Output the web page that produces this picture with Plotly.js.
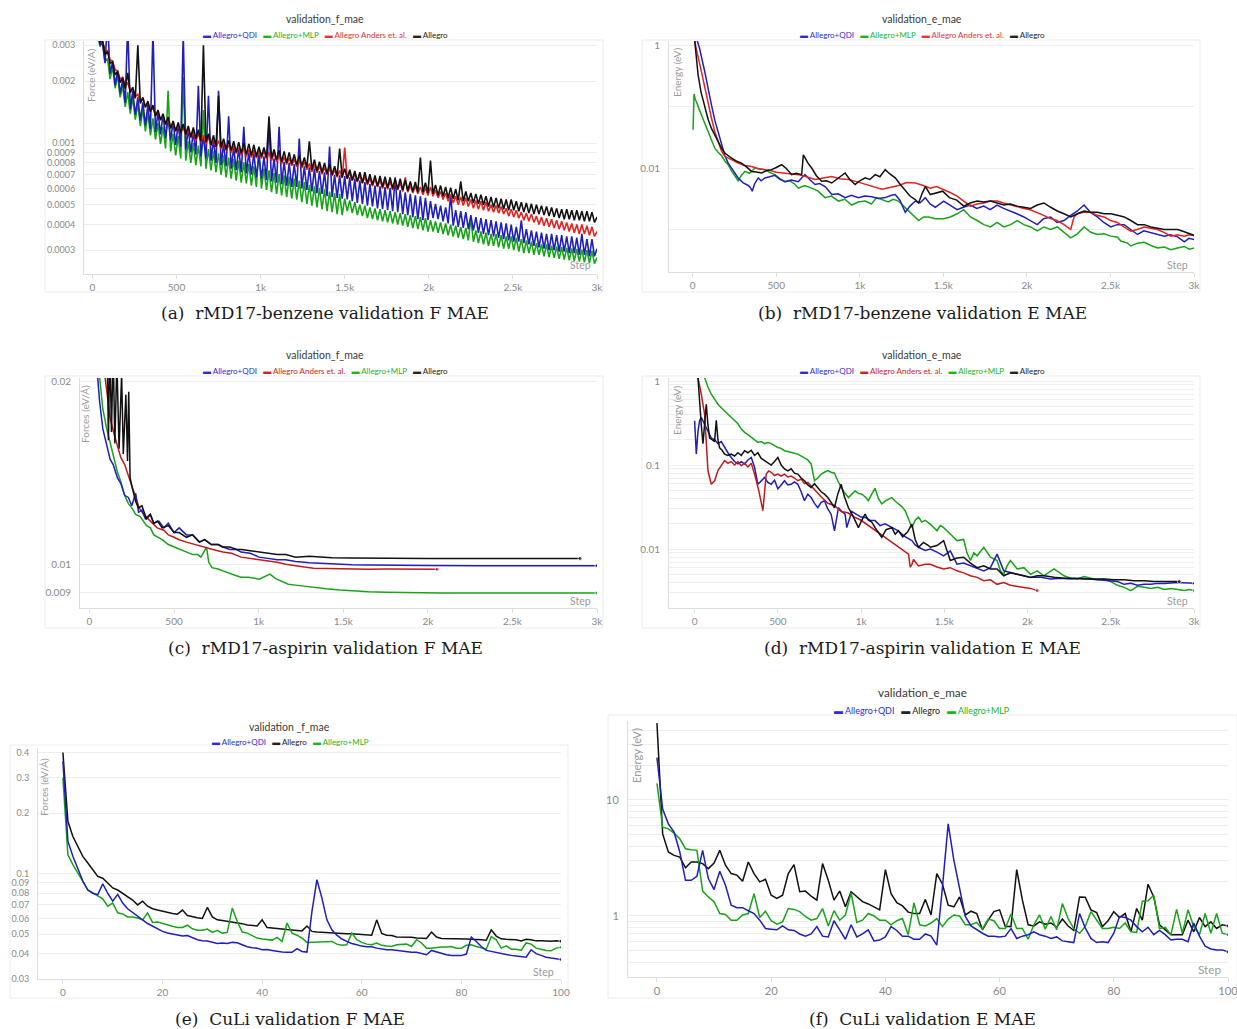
<!DOCTYPE html>
<html><head><meta charset="utf-8">
<script src="https://cdn.plot.ly/plotly-3.0.1.min.js"></script>
<style>html,body{margin:0;padding:0;background:#fff}#chart{width:1237px;height:1029px}</style>
</head><body><div id="chart"></div>
<script>
// ---------------- DATA ----------------
const seriesNames = {qdi:'Allegro+QDI', mlp:'Allegro+MLP', anders:'Allegro Anders et. al.', allegro:'Allegro'};
const stepTickVals = [0,500,1000,1500,2000,2500,3000];
const stepTickText = ['0','500','1k','1.5k','2k','2.5k','3k'];
const epochTickVals = [0,20,40,60,80,100];
const epochTickText = ['0','20','40','60','80','100'];

// (a) rMD17-benzene force MAE, read every 15 steps (upper / lower edge of the noisy band)
const stepsA = [0,15,30,45,60,75,90,105,120,135,150,165,180,195,210,225,240,255,270,285,300,315,330,345,360,375,390,405,420,435,450,465,480,495,510,525,540,555,570,585,600,615,630,645,660,675,690,705,720,735,750,765,780,795,810,825,840,855,870,885,900,915,930,945,960,975,990,1005,1020,1035,1050,1065,1080,1095,1110,1125,1140,1155,1170,1185,1200,1215,1230,1245,1260,1275,1290,1305,1320,1335,1350,1365,1380,1395,1410,1425,1440,1455,1470,1485,1500,1515,1530,1545,1560,1575,1590,1605,1620,1635,1650,1665,1680,1695,1710,1725,1740,1755,1770,1785,1800,1815,1830,1845,1860,1875,1890,1905,1920,1935,1950,1965,1980,1995,2010,2025,2040,2055,2070,2085,2100,2115,2130,2145,2160,2175,2190,2205,2220,2235,2250,2265,2280,2295,2310,2325,2340,2355,2370,2385,2400,2415,2430,2445,2460,2475,2490,2505,2520,2535,2550,2565,2580,2595,2610,2625,2640,2655,2670,2685,2700,2715,2730,2745,2760,2775,2790,2805,2820,2835,2850,2865,2880,2895,2910,2925,2940,2955,2970,2985,3000];
const fA_allegro = [
 45e-4,40e-4, 36e-4,31e-4, 31.8e-4,27e-4, 28e-4,24.5e-4, 24.9e-4,21.5e-4,
 22.3e-4,19.7e-4, 20.8e-4,18.4e-4, 22e-4,17.6e-4, 18.7e-4,16.5e-4, 30e-4,15.6e-4,
 16.7e-4,14.9e-4, 16.0e-4,14.2e-4, 15.3e-4,13.5e-4, 14.5e-4,12.9e-4, 13.9e-4,12.3e-4,
 13.4e-4,11.8e-4, 12.8e-4,11.4e-4, 12.6e-4,11.2e-4, 12.4e-4,11.0e-4, 12.1e-4,10.7e-4,
 11.9e-4,10.5e-4, 11.6e-4,10.2e-4, 30e-4,10.1e-4, 11.1e-4,9.8e-4, 10.9e-4,9.6e-4,
 17e-4,9.5e-4, 10.5e-4,9.3e-4, 10.3e-4,9.2e-4, 10.2e-4,9.0e-4, 10.1e-4,8.9e-4,
 10.0e-4,8.8e-4, 9.9e-4,8.7e-4, 9.8e-4,8.6e-4, 9.6e-4,8.6e-4, 9.5e-4,8.5e-4,
 13.5e-4,8.4e-4, 9.3e-4,8.3e-4, 9.2e-4,8.1e-4, 9.1e-4,8.0e-4, 9.0e-4,7.9e-4,
 8.8e-4,7.8e-4, 8.7e-4,7.7e-4, 8.5e-4,7.6e-4, 10.2e-4,7.4e-4, 8.3e-4,7.3e-4,
 8.1e-4,7.2e-4, 8.0e-4,7.1e-4, 7.9e-4,7.0e-4, 7.7e-4,6.9e-4, 9.4e-4,6.8e-4,
 7.5e-4,6.7e-4, 7.4e-4,6.6e-4, 7.3e-4,6.5e-4, 7.2e-4,6.4e-4, 7.2e-4,6.35e-4,
 7.05e-4,6.25e-4, 6.95e-4,6.15e-4, 6.9e-4,6.1e-4, 6.85e-4,6.05e-4, 6.8e-4,6.0e-4,
 6.7e-4,5.95e-4, 6.7e-4,5.9e-4, 6.6e-4,5.85e-4, 6.5e-4,5.8e-4, 6.45e-4,5.75e-4,
 8.5e-4,5.75e-4, 6.4e-4,5.7e-4, 8.2e-4,5.65e-4, 6.25e-4,5.55e-4, 6.2e-4,5.5e-4,
 6.1e-4,5.4e-4, 6.05e-4,5.35e-4, 5.95e-4,5.25e-4, 6.5e-4,5.2e-4, 5.8e-4,5.2e-4,
 5.7e-4,5.1e-4, 5.65e-4,5.05e-4, 5.6e-4,5.0e-4, 5.5e-4,4.9e-4, 5.45e-4,4.85e-4,
 5.4e-4,4.8e-4, 5.35e-4,4.75e-4, 5.3e-4,4.7e-4, 5.3e-4,4.7e-4, 5.2e-4,4.65e-4,
 5.15e-4,4.6e-4, 5.1e-4,4.55e-4, 5.05e-4,4.5e-4, 5.0e-4,4.5e-4, 4.95e-4,4.45e-4,
 4.9e-4,4.4e-4, 4.85e-4,4.35e-4, 4.8e-4,4.3e-4, 4.75e-4,4.25e-4, 4.75e-4,4.25e-4,
 4.7e-4,4.2e-4, 4.7e-4,4.2e-4, 4.65e-4,4.15e-4, 4.65e-4,4.15e-4, 4.6e-4,4.1e-4,
 4.35e-4];
const fA_anders = [
 45e-4,40e-4, 36.5e-4,32e-4, 31.3e-4,28.5e-4, 28.2e-4,25.5e-4, 25.1e-4,22.8e-4,
 22.5e-4,20.5e-4, 20.9e-4,19.1e-4, 19.6e-4,18.0e-4, 18.4e-4,16.8e-4, 17.3e-4,15.9e-4,
 16.5e-4,15.1e-4, 15.7e-4,14.3e-4, 14.9e-4,13.7e-4, 14.2e-4,13.0e-4, 13.6e-4,12.4e-4,
 13.0e-4,11.8e-4, 12.5e-4,11.5e-4, 12.2e-4,11.2e-4, 11.9e-4,10.9e-4, 11.6e-4,10.6e-4,
 11.3e-4,10.3e-4, 11.1e-4,10.1e-4, 10.9e-4,9.9e-4, 10.7e-4,9.7e-4, 10.45e-4,9.55e-4,
 10.25e-4,9.35e-4, 10.0e-4,9.2e-4, 9.8e-4,9.0e-4, 9.7e-4,8.9e-4, 9.5e-4,8.7e-4,
 9.4e-4,8.6e-4, 9.3e-4,8.5e-4, 9.25e-4,8.45e-4, 9.2e-4,8.4e-4, 9.15e-4,8.35e-4,
 9.0e-4,8.2e-4, 8.9e-4,8.1e-4, 8.7e-4,7.9e-4, 8.55e-4,7.85e-4, 8.45e-4,7.75e-4,
 8.35e-4,7.65e-4, 8.25e-4,7.55e-4, 8.1e-4,7.4e-4, 7.95e-4,7.25e-4, 7.85e-4,7.15e-4,
 7.75e-4,7.05e-4, 7.6e-4,7.0e-4, 7.5e-4,6.9e-4, 7.4e-4,6.8e-4, 7.35e-4,6.75e-4,
 9.5e-4,6.7e-4, 7.15e-4,6.55e-4, 7.05e-4,6.45e-4, 6.95e-4,6.35e-4, 6.85e-4,6.25e-4,
 6.75e-4,6.15e-4, 6.7e-4,6.1e-4, 6.6e-4,6.0e-4, 6.55e-4,5.95e-4, 6.5e-4,5.9e-4,
 6.5e-4,5.9e-4, 6.4e-4,5.8e-4, 6.8e-4,5.75e-4, 6.2e-4,5.7e-4, 6.15e-4,5.65e-4,
 6.1e-4,5.6e-4, 6.05e-4,5.55e-4, 6.1e-4,5.5e-4, 5.9e-4,5.4e-4, 5.8e-4,5.3e-4,
 5.7e-4,5.2e-4, 5.6e-4,5.1e-4, 5.5e-4,5.0e-4, 5.45e-4,4.95e-4, 5.4e-4,4.9e-4,
 5.3e-4,4.8e-4, 5.25e-4,4.75e-4, 5.2e-4,4.7e-4, 5.15e-4,4.65e-4, 5.0e-4,4.6e-4,
 4.95e-4,4.55e-4, 4.9e-4,4.5e-4, 4.8e-4,4.4e-4, 4.75e-4,4.35e-4, 4.7e-4,4.3e-4,
 4.6e-4,4.2e-4, 4.55e-4,4.15e-4, 4.5e-4,4.1e-4, 4.4e-4,4.0e-4, 4.35e-4,3.95e-4,
 4.3e-4,3.9e-4, 4.25e-4,3.85e-4, 4.2e-4,3.8e-4, 4.15e-4,3.75e-4, 4.1e-4,3.7e-4,
 4.05e-4,3.65e-4, 4.0e-4,3.6e-4, 4.0e-4,3.6e-4, 3.95e-4,3.55e-4, 3.9e-4,3.5e-4,
 3.7e-4];
const fA_qdi = [
 45e-4,40e-4, 36e-4,30e-4, 31e-4,24.5e-4, 40e-4,21.8e-4, 24.8e-4,19.1e-4,
 22.6e-4,17.4e-4, 20.3e-4,15.7e-4, 38e-4,14.6e-4, 17.9e-4,13.7e-4, 16.7e-4,12.9e-4,
 15.8e-4,12.2e-4, 15.3e-4,11.7e-4, 35e-4,11.3e-4, 14.2e-4,11.0e-4, 13.8e-4,10.6e-4,
 13.3e-4,10.3e-4, 12.8e-4,9.8e-4, 12.4e-4,9.6e-4, 34e-4,9.3e-4, 11.8e-4,9.0e-4,
 11.4e-4,8.8e-4, 19e-4,8.6e-4, 10.8e-4,8.4e-4, 17e-4,8.2e-4, 10.4e-4,8.0e-4,
 18e-4,7.8e-4, 9.9e-4,7.7e-4, 13.5e-4,7.5e-4, 9.5e-4,7.4e-4, 9.4e-4,7.2e-4,
 12e-4,7.1e-4, 9.0e-4,7.0e-4, 8.9e-4,6.8e-4, 8.7e-4,6.7e-4, 8.6e-4,6.6e-4,
 12.5e-4,6.5e-4, 8.4e-4,6.4e-4, 12e-4,6.3e-4, 8.1e-4,6.2e-4, 8.0e-4,6.1e-4,
 7.9e-4,6.1e-4, 10.5e-4,6.0e-4, 7.7e-4,5.9e-4, 7.6e-4,5.8e-4, 7.5e-4,5.7e-4,
 7.3e-4,5.65e-4, 7.2e-4,5.5e-4, 9.6e-4,5.45e-4, 7.0e-4,5.4e-4, 6.95e-4,5.35e-4,
 6.9e-4,5.3e-4, 6.8e-4,5.2e-4, 6.7e-4,5.1e-4, 6.55e-4,5.05e-4, 6.45e-4,4.95e-4,
 6.3e-4,4.9e-4, 6.2e-4,4.8e-4, 6.15e-4,4.75e-4, 6.1e-4,4.7e-4, 6.05e-4,4.65e-4,
 6.8e-4,4.6e-4, 5.9e-4,4.5e-4, 5.75e-4,4.45e-4, 5.65e-4,4.35e-4, 5.55e-4,4.25e-4,
 5.5e-4,4.2e-4, 5.4e-4,4.2e-4, 5.2e-4,4.3e-4, 5.05e-4,4.25e-4, 4.95e-4,4.15e-4,
 4.85e-4,4.05e-4, 5.6e-4,3.95e-4, 4.7e-4,3.9e-4, 4.65e-4,3.85e-4, 4.6e-4,3.8e-4,
 4.45e-4,3.75e-4, 4.35e-4,3.65e-4, 4.3e-4,3.6e-4, 4.25e-4,3.55e-4, 4.2e-4,3.5e-4,
 4.15e-4,3.45e-4, 4.1e-4,3.4e-4, 4.05e-4,3.35e-4, 4.0e-4,3.3e-4, 3.9e-4,3.3e-4,
 4.2e-4,3.25e-4, 3.8e-4,3.2e-4, 3.75e-4,3.15e-4, 3.7e-4,3.1e-4, 3.65e-4,3.05e-4,
 3.6e-4,3.0e-4, 3.6e-4,3.0e-4, 3.55e-4,2.95e-4, 3.55e-4,2.95e-4, 3.5e-4,2.9e-4,
 3.5e-4,2.9e-4, 3.45e-4,2.85e-4, 3.6e-4,2.85e-4, 3.4e-4,2.8e-4, 3.4e-4,2.8e-4,
 3.05e-4];
const fA_mlp = [
 42e-4,36e-4, 35e-4,29.5e-4, 31e-4,25e-4, 25.8e-4,20.5e-4, 23.5e-4,18.5e-4,
 21.3e-4,16.7e-4, 19.0e-4,15.0e-4, 17.7e-4,13.9e-4, 16.6e-4,13.0e-4, 15.5e-4,12.1e-4,
 14.6e-4,11.4e-4, 13.9e-4,10.9e-4, 13.2e-4,10.4e-4, 12.5e-4,9.9e-4, 12.0e-4,9.4e-4,
 18e-4,9.1e-4, 11.1e-4,8.7e-4, 10.8e-4,8.4e-4, 21e-4,8.2e-4, 10.2e-4,8.0e-4,
 10.0e-4,7.8e-4, 9.7e-4,7.7e-4, 14.5e-4,7.5e-4, 9.35e-4,7.35e-4, 9.1e-4,7.2e-4,
 8.9e-4,7.0e-4, 8.7e-4,6.8e-4, 8.5e-4,6.7e-4, 8.35e-4,6.55e-4, 8.2e-4,6.4e-4,
 8.05e-4,6.35e-4, 7.9e-4,6.2e-4, 7.7e-4,6.1e-4, 9.5e-4,6.0e-4, 7.5e-4,5.9e-4,
 7.35e-4,5.75e-4, 7.15e-4,5.65e-4, 7.05e-4,5.55e-4, 6.95e-4,5.45e-4, 6.85e-4,5.35e-4,
 6.7e-4,5.3e-4, 6.55e-4,5.15e-4, 6.45e-4,5.05e-4, 6.25e-4,4.95e-4, 6.15e-4,4.85e-4,
 6.05e-4,4.75e-4, 5.95e-4,4.65e-4, 5.8e-4,4.6e-4, 5.7e-4,4.5e-4, 5.65e-4,4.45e-4,
 5.35e-4,4.65e-4, 5.25e-4,4.55e-4, 5.15e-4,4.45e-4, 5.0e-4,4.4e-4, 4.95e-4,4.3e-4,
 4.85e-4,4.25e-4, 4.8e-4,4.2e-4, 4.75e-4,4.15e-4, 4.7e-4,4.1e-4, 4.65e-4,4.05e-4,
 4.6e-4,4.0e-4, 4.55e-4,3.95e-4, 4.5e-4,3.9e-4, 4.45e-4,3.85e-4, 4.4e-4,3.8e-4,
 4.35e-4,3.75e-4, 4.3e-4,3.7e-4, 4.2e-4,3.7e-4, 4.15e-4,3.65e-4, 4.1e-4,3.6e-4,
 4.05e-4,3.55e-4, 4.0e-4,3.5e-4, 3.95e-4,3.45e-4, 3.9e-4,3.4e-4, 3.85e-4,3.35e-4,
 4.3e-4,3.3e-4, 3.75e-4,3.25e-4, 3.7e-4,3.2e-4, 3.65e-4,3.15e-4, 3.6e-4,3.15e-4,
 3.6e-4,3.1e-4, 3.55e-4,3.05e-4, 3.5e-4,3.05e-4, 3.5e-4,3.0e-4, 3.45e-4,2.95e-4,
 3.4e-4,2.9e-4, 3.35e-4,2.9e-4, 3.3e-4,2.85e-4, 3.25e-4,2.85e-4, 3.2e-4,2.8e-4,
 3.2e-4,2.78e-4, 3.15e-4,2.75e-4, 3.12e-4,2.72e-4, 3.1e-4,2.7e-4, 3.08e-4,2.68e-4,
 3.06e-4,2.66e-4, 3.04e-4,2.64e-4, 3.02e-4,2.62e-4, 3.0e-4,2.6e-4, 2.98e-4,2.58e-4,
 2.76e-4];

// (b) rMD17-benzene energy MAE
const eB_qdi_steps = [22,40,72,90,112,132,152,172,192,212,232,252,272,300,332,345,356,370,392,410,432,460,492,520,552,590,632,650,672,700,732,760,792,810,832,870,912,950,992,1030,1072,1110,1152,1190,1212,1240,1272,1300,1332,1360,1392,1420,1452,1502,1540,1582,1620,1662,1700,1742,1780,1822,1860,1902,1940,1982,2020,2062,2100,2142,2180,2222,2262,2302,2342,2380,2422,2460,2502,2540,2582,2620,2662,2700,2742,2780,2822,2860,2902,2942,2970,3000];
const eB_qdi = [1.3,0.9,0.37,0.2,0.106,0.06,0.039,0.024,0.016,0.012,0.01,0.0082,0.0069,0.0058,0.0052,0.0048,0.0042,0.0055,0.0069,0.0062,0.0069,0.0072,0.0076,0.0066,0.006,0.0064,0.006,0.0068,0.0078,0.0065,0.0054,0.0056,0.005,0.0044,0.0037,0.0038,0.0033,0.0036,0.0033,0.0035,0.0034,0.0032,0.0033,0.0036,0.0037,0.003,0.0019,0.0024,0.0029,0.0027,0.0033,0.0026,0.0023,0.0029,0.0025,0.0021,0.0023,0.0025,0.0022,0.0024,0.0021,0.0025,0.0022,0.002,0.0018,0.0016,0.0014,0.0012,0.0015,0.0016,0.0013,0.0014,0.0017,0.002,0.0025,0.0019,0.0016,0.0013,0.0011,0.0012,0.0012,0.001,0.00083,0.00095,0.00088,0.00082,0.00078,0.00082,0.00076,0.00063,0.00072,0.00069];
const eB_anders_steps = [5,20,52,72,92,112,132,152,172,192,212,240,272,310,352,390,432,470,500,532,580,632,680,732,780,832,880,932,980,1032,1080,1132,1180,1232,1280,1332,1380,1422,1460,1502,1540,1582,1620,1662,1700,1742,1780,1822,1860,1902,1940,1982,2020,2062,2100,2142,2180,2222,2262,2282,2302,2340,2382,2420,2462,2500,2542,2580,2622,2660,2702,2740,2782,2820,2862,2900,2942,2970,3000];
const eB_anders = [1.5,0.9,0.37,0.2,0.106,0.065,0.039,0.027,0.019,0.0155,0.0145,0.013,0.012,0.011,0.0106,0.0098,0.0094,0.009,0.0085,0.0083,0.008,0.0078,0.0072,0.0065,0.0069,0.0073,0.0067,0.0065,0.006,0.0054,0.005,0.0045,0.0048,0.0052,0.0058,0.0057,0.0052,0.0047,0.005,0.0045,0.004,0.0035,0.0029,0.0024,0.0026,0.0027,0.0029,0.0029,0.0027,0.0025,0.0024,0.0022,0.0021,0.0019,0.0017,0.0015,0.0014,0.0012,0.001,0.0016,0.0018,0.0019,0.0019,0.0017,0.0016,0.0014,0.0013,0.0011,0.00094,0.001,0.0011,0.00105,0.001,0.0009,0.00078,0.00082,0.00078,0.00082,0.0008];
const eB_allegro_steps = [8,20,32,50,72,92,112,132,152,172,192,212,232,260,292,320,352,380,412,440,472,500,532,560,592,620,652,662,690,712,740,772,800,832,870,912,940,972,1000,1032,1060,1092,1120,1152,1180,1212,1240,1272,1300,1330,1352,1372,1392,1422,1460,1496,1536,1580,1622,1660,1702,1742,1782,1822,1862,1902,1942,1982,2022,2062,2102,2142,2182,2222,2262,2302,2342,2382,2422,2462,2502,2542,2582,2622,2662,2702,2742,2782,2822,2862,2902,2942,2982,3002];
const eB_allegro = [1.5,0.7,0.33,0.17,0.094,0.062,0.044,0.034,0.027,0.021,0.0175,0.0158,0.0145,0.013,0.012,0.0105,0.0088,0.0086,0.0083,0.009,0.0094,0.0102,0.0113,0.0098,0.0078,0.0082,0.0078,0.0164,0.012,0.01,0.0075,0.0061,0.0062,0.0057,0.0068,0.0083,0.0065,0.0054,0.0062,0.0069,0.0065,0.0078,0.0072,0.0094,0.008,0.0069,0.0055,0.0043,0.0035,0.0031,0.0027,0.0038,0.005,0.0037,0.004,0.0042,0.0033,0.003,0.0024,0.0027,0.0029,0.0028,0.0029,0.0027,0.0025,0.0026,0.0024,0.0023,0.0022,0.0025,0.0027,0.0023,0.002,0.0018,0.0016,0.0018,0.002,0.0019,0.0019,0.0018,0.0018,0.0017,0.0016,0.0014,0.0012,0.0012,0.0011,0.00105,0.001,0.001,0.001,0.00092,0.00083,0.0008];
const eB_mlp_steps = [2,5,8,15,22,35,52,72,92,112,132,152,172,192,212,232,252,272,290,312,340,372,400,432,460,492,520,552,580,610,632,670,712,750,792,830,872,910,952,990,1032,1070,1100,1132,1170,1200,1232,1262,1292,1322,1352,1382,1412,1452,1502,1542,1582,1622,1662,1702,1742,1782,1822,1862,1902,1942,1982,2022,2062,2102,2142,2182,2222,2262,2302,2342,2382,2422,2462,2502,2542,2562,2602,2622,2662,2702,2742,2782,2822,2862,2902,2942,2972,3002];
const eB_mlp = [0.042,0.1,0.16,0.13,0.12,0.095,0.073,0.053,0.039,0.029,0.021,0.018,0.016,0.013,0.0113,0.009,0.0073,0.0062,0.0075,0.0088,0.0082,0.01,0.0096,0.0094,0.0085,0.0078,0.0068,0.006,0.0062,0.0055,0.0047,0.0052,0.0047,0.0042,0.0033,0.0035,0.0029,0.0031,0.0025,0.0028,0.0029,0.0026,0.0033,0.0031,0.0028,0.0031,0.0029,0.0024,0.002,0.0017,0.0014,0.0016,0.0016,0.0015,0.0015,0.0016,0.0018,0.0021,0.0016,0.0014,0.0012,0.0011,0.0013,0.0011,0.0012,0.0014,0.0012,0.0011,0.00095,0.0011,0.001,0.0011,0.0009,0.00073,0.00085,0.0011,0.0009,0.00083,0.00085,0.00078,0.00075,0.00065,0.0006,0.00054,0.0006,0.00062,0.00055,0.0005,0.00052,0.00047,0.0005,0.00053,0.00048,0.0005];

// (c) rMD17-aspirin force MAE
const fC_qdi_steps = [47,60,79,100,122,140,165,185,208,230,250,273,290,310,330,359,380,410,440,466,500,530,573,610,650,681,720,760,788,830,870,896,950,1003,1060,1110,1160,1218,1300,1432,1550,1647,1800,2000,2300,2600,3000];
const fC_qdi = [0.0205,0.0185,0.0167,0.0158,0.0149,0.0146,0.0139,0.0136,0.013,0.0129,0.0125,0.0131,0.0122,0.0123,0.0119,0.0121,0.0117,0.0118,0.0115,0.0117,0.0113,0.0115,0.0112,0.0112,0.0109,0.011,0.0108,0.0108,0.0107,0.0106,0.0106,0.0105,0.01045,0.0103,0.01025,0.0102,0.0102,0.01013,0.01008,0.01003,0.01001,0.0100,0.00998,0.00998,0.00997,0.00997,0.00997];
const fC_anders_steps = [90,105,122,145,165,185,208,230,251,273,294,320,359,400,440,466,500,530,573,620,681,730,788,840,896,950,1003,1060,1110,1160,1218,1270,1325,1432,1550,1647,1750,1862,1950,2055];
const fC_anders = [0.0205,0.019,0.0174,0.0164,0.0157,0.015,0.0146,0.014,0.0134,0.0128,0.0124,0.0121,0.0118,0.0115,0.0114,0.0112,0.0111,0.011,0.0109,0.0108,0.0107,0.0106,0.0105,0.01045,0.0103,0.01025,0.0102,0.01015,0.0101,0.01003,0.00996,0.00992,0.00988,0.00986,0.00985,0.00984,0.00985,0.00984,0.00985,0.00984];
const fC_allegro_steps = [105,112,120,130,140,150,162,175,190,200,215,225,232,240,255,273,290,310,337,360,380,402,430,466,500,530,573,610,650,681,720,760,788,830,870,900,950,1003,1060,1110,1160,1218,1300,1432,1550,1647,1800,2000,2300,2600,2900];
const fC_allegro = [0.022,0.016,0.023,0.0165,0.0225,0.0158,0.0215,0.0155,0.0205,0.0152,0.019,0.0148,0.0192,0.0139,0.0133,0.0127,0.0124,0.0125,0.0119,0.0121,0.0117,0.0118,0.0115,0.0116,0.0113,0.0113,0.0111,0.0112,0.0109,0.011,0.0108,0.0108,0.0107,0.0107,0.0106,0.0106,0.01055,0.0105,0.01045,0.0104,0.0104,0.0103,0.01033,0.01028,0.01027,0.01026,0.01025,0.01025,0.01025,0.01025,0.01025];
const fC_mlp_steps = [58,70,79,100,122,140,165,185,208,230,250,273,300,337,360,380,402,430,466,500,530,573,610,640,659,692,705,724,760,788,820,860,896,940,1003,1040,1067,1100,1140,1175,1230,1280,1325,1400,1480,1540,1650,1755,1900,2077,2300,2600,3000];
const fC_mlp = [0.0205,0.0192,0.018,0.0168,0.0159,0.0152,0.0142,0.0137,0.013,0.0126,0.0124,0.0121,0.012,0.0116,0.0115,0.0112,0.0111,0.011,0.0108,0.0107,0.0106,0.0105,0.0104,0.0104,0.0103,0.0107,0.0101,0.0099,0.00985,0.00978,0.0097,0.00962,0.00955,0.00955,0.00948,0.0096,0.00966,0.0095,0.0094,0.0093,0.00926,0.00922,0.00919,0.00914,0.0091,0.00907,0.00904,0.00902,0.009,0.009,0.009,0.009,0.009];

// (d) rMD17-aspirin energy MAE
const eD_qdi_steps = [0,10,20,30,40,60,80,100,120,140,160,180,200,220,240,260,280,300,320,340,360,380,400,420,440,460,480,500,520,540,560,580,600,620,640,660,680,700,720,740,760,780,800,820,840,864,884,904,914,944,970,1000,1024,1054,1084,1114,1144,1184,1224,1264,1305,1325,1345,1385,1416,1456,1496,1536,1576,1616,1657,1697,1737,1777,1817,1857,1897,1938,1978,2018,2079,2139,2199,2259,2320,2380,2440,2500,2540,2580,2620,2661,2701,2741,2782,2822,2900,3002];
const eD_qdi = [0.337,0.135,0.25,0.34,0.37,0.31,0.25,0.21,0.2,0.18,0.19,0.16,0.14,0.123,0.11,0.103,0.11,0.103,0.115,0.123,0.094,0.059,0.065,0.071,0.062,0.059,0.066,0.052,0.058,0.065,0.058,0.059,0.063,0.059,0.048,0.0376,0.045,0.041,0.035,0.031,0.036,0.0376,0.03,0.026,0.0165,0.031,0.028,0.026,0.018,0.028,0.026,0.024,0.0238,0.022,0.0218,0.019,0.02,0.018,0.0165,0.014,0.0126,0.0112,0.0105,0.0096,0.01,0.0092,0.0083,0.0095,0.0066,0.0068,0.0063,0.0058,0.0055,0.006,0.0087,0.0055,0.0052,0.005,0.0048,0.0046,0.0046,0.0044,0.0045,0.0044,0.0045,0.0044,0.0043,0.0042,0.0041,0.0038,0.0039,0.0037,0.0038,0.0038,0.0039,0.0039,0.004,0.0039];
const eD_anders_steps = [20,40,60,80,100,120,140,160,180,200,220,240,260,280,300,320,340,360,385,410,430,445,460,480,500,520,540,560,580,600,620,640,660,680,700,760,800,840,880,920,960,1000,1285,1295,1305,1315,1345,1385,1416,1456,1496,1536,1576,1616,1657,1697,1737,1777,1817,1857,1897,1938,1978,2018,2058];
const eD_anders = [1.1,0.7,0.4,0.086,0.059,0.065,0.086,0.1,0.113,0.105,0.11,0.1,0.11,0.098,0.105,0.095,0.105,0.078,0.05,0.0286,0.078,0.085,0.082,0.075,0.078,0.074,0.078,0.072,0.074,0.07,0.065,0.068,0.06,0.062,0.056,0.042,0.035,0.033,0.028,0.027,0.024,0.022,0.0087,0.0061,0.0065,0.0075,0.0063,0.0066,0.0066,0.0061,0.0058,0.006,0.0055,0.0052,0.0048,0.0046,0.0042,0.0043,0.0038,0.004,0.0037,0.0036,0.0035,0.0034,0.0032];
const eD_allegro_steps = [20,30,40,50,60,70,80,90,105,120,130,140,150,165,180,200,220,240,260,280,300,320,340,360,380,400,420,440,460,480,500,520,540,560,580,600,620,640,660,680,700,720,740,760,780,800,820,840,860,880,900,924,950,984,1004,1024,1044,1064,1084,1104,1124,1150,1185,1205,1224,1250,1280,1305,1325,1345,1375,1405,1416,1456,1496,1536,1576,1616,1657,1697,1737,1777,1817,1857,1897,1938,1978,2018,2058,2098,2159,2219,2280,2340,2400,2460,2520,2580,2640,2701,2760,2822,2912];
const eD_allegro = [1.1,0.49,0.3,0.18,0.28,0.53,0.3,0.21,0.2,0.19,0.34,0.2,0.16,0.15,0.135,0.13,0.135,0.128,0.14,0.13,0.148,0.14,0.15,0.13,0.14,0.12,0.113,0.105,0.1,0.11,0.123,0.1,0.09,0.085,0.09,0.08,0.078,0.07,0.065,0.058,0.054,0.06,0.054,0.048,0.045,0.041,0.036,0.031,0.045,0.059,0.042,0.031,0.025,0.018,0.022,0.026,0.022,0.021,0.018,0.016,0.0138,0.017,0.018,0.015,0.0165,0.014,0.016,0.0198,0.013,0.0105,0.012,0.011,0.0105,0.011,0.0126,0.0073,0.0078,0.008,0.0068,0.006,0.0063,0.0058,0.0058,0.0048,0.0052,0.005,0.0048,0.0046,0.0048,0.0048,0.0046,0.0045,0.0045,0.0044,0.0044,0.0044,0.0043,0.0043,0.0042,0.0042,0.0041,0.0041,0.0041];
const eD_mlp_steps = [60,80,100,120,140,160,180,200,220,240,260,280,300,320,340,360,380,400,420,440,460,480,500,520,540,560,580,600,620,640,660,680,700,720,740,760,780,800,820,840,860,880,900,924,944,964,984,1004,1024,1044,1064,1084,1104,1124,1150,1185,1205,1224,1245,1265,1285,1305,1325,1345,1365,1385,1416,1456,1476,1496,1536,1576,1616,1636,1657,1677,1697,1737,1777,1817,1837,1857,1877,1897,1938,1978,2018,2058,2098,2159,2219,2259,2299,2340,2380,2420,2460,2500,2540,2580,2620,2660,2701,2741,2781,2822,2862,2902,2942,2972,3002];
const eD_mlp = [1.1,0.85,0.7,0.6,0.53,0.48,0.44,0.4,0.37,0.34,0.31,0.27,0.245,0.23,0.213,0.2,0.186,0.19,0.18,0.185,0.18,0.17,0.162,0.158,0.148,0.145,0.14,0.138,0.135,0.128,0.123,0.115,0.103,0.065,0.07,0.078,0.082,0.086,0.082,0.08,0.065,0.054,0.047,0.041,0.045,0.049,0.046,0.045,0.042,0.0376,0.045,0.053,0.04,0.0344,0.038,0.041,0.037,0.0344,0.032,0.0286,0.022,0.018,0.022,0.024,0.021,0.022,0.0198,0.0165,0.019,0.018,0.0151,0.0126,0.013,0.009,0.0073,0.009,0.0083,0.0105,0.008,0.0073,0.0055,0.005,0.0063,0.0073,0.0058,0.006,0.005,0.0055,0.0048,0.0058,0.0048,0.0045,0.0044,0.0047,0.0045,0.0043,0.0044,0.0041,0.0037,0.0035,0.0032,0.0036,0.0035,0.0034,0.0035,0.0033,0.0034,0.0033,0.0032,0.0033,0.0032];

// (e) CuLi force MAE and (f) CuLi energy MAE, one value per epoch
const epochs = [0,1,2,3,4,5,6,7,8,9,10,11,12,13,14,15,16,17,18,19,20,21,22,23,24,25,26,27,28,29,30,31,32,33,34,35,36,37,38,39,40,41,42,43,44,45,46,47,48,49,50,51,52,53,54,55,56,57,58,59,60,61,62,63,64,65,66,67,68,69,70,71,72,73,74,75,76,77,78,79,80,81,82,83,84,85,86,87,88,89,90,91,92,93,94,95,96,97,98,99,100];
const fE_allegro = [0.40,0.182,0.153,0.137,0.122,0.113,0.105,0.097,0.095,0.090,
 0.085,0.083,0.080,0.077,0.074,0.070,0.073,0.069,0.067,0.066,
 0.065,0.064,0.0635,0.063,0.066,0.062,0.061,0.0605,0.060,0.068,
 0.061,0.059,0.0585,0.058,0.0577,0.057,0.0565,0.0557,0.0553,0.055,
 0.059,0.054,0.0537,0.0533,0.0531,0.0528,0.0526,0.0524,0.052,0.055,
 0.0517,0.0513,0.0511,0.0508,0.0508,0.0506,0.0505,0.0503,0.0503,0.0501,
 0.0498,0.0498,0.0495,0.059,0.0505,0.0495,0.0493,0.0485,0.0485,0.0485,
 0.0483,0.048,0.0479,0.0477,0.0513,0.0485,0.0477,0.0477,0.0476,0.0476,
 0.0474,0.0474,0.0472,0.0472,0.047,0.0467,0.0526,0.049,0.0475,0.0472,
 0.0472,0.047,0.0464,0.0472,0.047,0.0464,0.0464,0.0462,0.0462,0.0464,
 0.0462];
const fE_qdi = [0.362,0.145,0.122,0.105,0.092,0.083,0.080,0.0787,0.089,0.080,
 0.073,0.079,0.0715,0.067,0.064,0.0615,0.059,0.0566,0.0548,0.0533,
 0.0517,0.0508,0.0503,0.0495,0.049,0.0493,0.048,0.047,0.0465,0.0463,
 0.0457,0.045,0.0453,0.045,0.0456,0.0454,0.0444,0.0434,0.0429,0.0427,
 0.0419,0.042,0.0416,0.0411,0.0408,0.0407,0.0407,0.0425,0.0411,0.0408,
 0.065,0.0934,0.0757,0.059,0.0527,0.0495,0.0474,0.0461,0.045,0.0444,
 0.0437,0.0434,0.0434,0.0427,0.0422,0.0419,0.0419,0.0416,0.0411,0.0408,
 0.0407,0.0407,0.0402,0.0396,0.0416,0.0409,0.0403,0.0396,0.0393,0.0392,
 0.0392,0.0399,0.0485,0.0461,0.0435,0.0416,0.0411,0.0407,0.0402,0.0396,
 0.0393,0.039,0.0388,0.0385,0.0419,0.0401,0.0393,0.0385,0.0381,0.0379,
 0.0375];
const fE_mlp = [0.30,0.124,0.111,0.100,0.0916,0.083,0.080,0.0772,0.075,0.069,
 0.0715,0.064,0.0631,0.061,0.061,0.0602,0.059,0.0638,0.0573,0.0575,
 0.0565,0.0555,0.0548,0.0541,0.0541,0.0555,0.0533,0.0524,0.0524,0.0531,
 0.0511,0.0524,0.0507,0.0511,0.0675,0.058,0.0513,0.0507,0.0495,0.0479,
 0.0474,0.047,0.0468,0.0483,0.0461,0.0569,0.0507,0.0495,0.0479,0.0456,
 0.0457,0.0456,0.0456,0.0457,0.0461,0.0447,0.0441,0.0444,0.0507,0.047,
 0.0456,0.0447,0.0444,0.0453,0.0441,0.0437,0.0435,0.0444,0.0444,0.0447,
 0.0435,0.047,0.0453,0.0427,0.0427,0.043,0.0432,0.0432,0.0435,0.0427,
 0.0427,0.0441,0.0444,0.0435,0.0427,0.0422,0.0487,0.047,0.0427,0.0438,
 0.0422,0.0422,0.0416,0.0453,0.0447,0.0427,0.0422,0.0416,0.0414,0.0427,
 0.0431];
const eF_allegro = [46,5.1,3.56,3.33,3.22,2.6,2.92,2.92,2.83,2.56,
 2.86,3.68,2.74,2.32,2.25,1.99,2.92,2.32,1.97,2.07,
 1.51,1.42,1.51,2.32,2.77,1.62,1.64,1.48,1.37,2.83,
 2.03,1.37,1.64,1.2,1.62,1.46,1.33,1.27,1.2,1.13,
 2.51,1.56,1.30,1.22,1.08,1.05,1.05,1.39,1.02,2.32,
 1.88,1.24,1.2,1.46,1.02,1.1,1.05,0.76,0.92,1.09,
 1.13,0.81,0.81,2.51,1.37,0.84,0.82,0.89,0.85,0.87,
 0.80,0.94,0.82,0.75,1.46,1.45,1.13,1.07,0.81,0.91,
 1.09,0.97,1.05,0.73,1.16,0.92,1.88,1.46,0.84,0.76,
 0.69,0.69,0.69,0.92,0.73,0.97,0.81,0.89,0.78,0.84,
 0.82];
const eF_qdi = [23.2,8.37,6.23,5.28,3.56,2.03,2.03,2.2,3.68,2.1,
 1.69,2.43,1.84,1.24,1.18,1.18,1.11,1.05,0.92,0.78,
 0.77,0.76,0.82,0.76,0.75,0.70,0.67,0.70,0.81,0.67,
 0.66,0.91,0.76,0.63,0.84,0.66,0.70,0.76,0.61,0.62,
 0.66,0.81,0.75,0.67,0.67,0.63,0.63,0.70,0.67,0.56,
 1.78,6.23,3.02,1.67,0.99,0.82,0.76,0.71,0.67,0.67,
 0.66,0.67,0.78,0.64,0.67,0.69,0.73,0.69,0.67,0.64,
 0.66,0.61,0.60,0.59,1.05,0.79,0.64,0.59,0.60,0.59,
 0.71,0.99,0.97,0.92,0.81,0.73,0.80,0.69,0.75,0.69,
 0.62,0.63,0.63,0.60,0.87,0.67,0.55,0.52,0.51,0.51,
 0.49];
const eF_mlp = [13.9,5.82,5.64,5.18,4.63,3.8,3.72,3.68,1.64,1.46,
 1.33,1.05,1.03,0.92,0.92,1.02,1.05,1.56,0.97,1.10,
 0.91,0.85,0.89,1.16,1.14,1.09,0.99,0.92,0.95,1.16,
 0.82,1.11,0.92,1.02,1.58,0.88,0.92,1.05,1.0,0.92,
 0.92,0.84,0.91,0.95,0.69,1.30,0.84,0.82,0.87,0.95,
 0.81,0.94,1.02,1.0,0.84,0.84,0.88,0.77,0.94,0.91,
 0.78,0.78,1.04,0.78,0.78,0.63,0.84,1.02,0.77,0.99,
 0.76,1.28,0.95,0.78,0.71,0.81,1.09,0.91,0.78,0.78,
 0.80,0.78,0.87,0.73,0.72,1.34,1.35,1.51,0.78,0.80,
 0.69,1.14,0.71,1.13,0.81,0.69,1.05,0.71,1.05,0.71,
 0.69];

// axis tick labels
const yTicksA = [0.003,0.002,0.001,0.0009,0.0008,0.0007,0.0006,0.0005,0.0004,0.0003];
const yTickTextA = ['0.003','0.002','0.001','0.0009','0.0008','0.0007','0.0006','0.0005','0.0004','0.0003'];
const yTicksB = [1,0.1,0.01,0.001];
const yTickTextB = ['1','','0.01',''];
const yTicksC = [0.02,0.01,0.009];
const yTickTextC = ['0.02','0.01','0.009'];
const yTicksD = [1,0.9,0.8,0.7,0.6,0.5,0.4,0.3,0.2,0.1,0.09,0.08,0.07,0.06,0.05,0.04,0.03,0.02,0.01,0.009,0.008,0.007,0.006,0.005,0.004,0.003,0.002];
const yTickTextD = ['1','','','','','','','','','0.1','','','','','','','','','0.01','','','','','','','',''];
const yTicksE = [0.4,0.3,0.2,0.1,0.09,0.08,0.07,0.06,0.05,0.04,0.03];
const yTickTextE = ['0.4','0.3','0.2','0.1','0.09','0.08','0.07','0.06','0.05','0.04','0.03'];
const yTicksF = [40,30,20,10,9,8,7,6,5,4,3,2,1,0.9,0.8,0.7,0.6,0.5,0.4,0.3];
const yTickTextF = ['','','','10','','','','','','','','','1','','','','','','',''];

// ---------------- STYLE / LAYOUT ----------------
const W = 1237, H = 1029;
const fx = px => px / W;
const fy = py => 1 - py / H;
const C = {qdi:'#1f1fbd', mlp:'#18a418', anders:'#e42323', andersDark:'#c21b1b', allegro:'#111111'};
const LC = {qdi:'#2b2bd8', mlp:'#1db51d', anders:'#e53232', andersDark:'#cc2424', allegro:'#222222'};
const UI = 'Lato, "Open Sans", sans-serif';
const NB = '\u00a0';

const panels = [
 {s:'', px:[84,597], py:[41,274], xr:[-50,3000], yr:[-3.639,-2.5024], xt:[stepTickVals,stepTickText], yt:[yTicksA,yTickTextA], ytf:9,
  frame:[45,40,603,292], title:['validation_f_mae',325,19], leg:[['qdi','mlp','anders','allegro'],325,35,'anders'],
  ytitle:['Force (eV/A)',91,75], step:[593,265], cap:['(a)'+NB+NB+'rMD17-benzene validation F MAE',325,313], fs:1,
  series:[[stepsA,fA_mlp,'mlp'],[stepsA,fA_qdi,'qdi'],[stepsA,fA_anders,'anders'],[stepsA,fA_allegro,'allegro']], lw:1.6, dots:false},
 {s:'2', px:[669,1194], py:[41,272], xr:[-142,3000], yr:[-3.691,0.065], xt:[stepTickVals,stepTickText], yt:[yTicksB,yTickTextB], ytf:10,
  frame:[642,40,1200,292], title:['validation_e_mae',922,19], leg:[['qdi','mlp','anders','allegro'],922,35,'anders'],
  ytitle:['Energy (eV)',677,73], step:[1190,265], cap:['(b)'+NB+NB+'rMD17-benzene validation E MAE',922,313], fs:1,
  series:[[eB_mlp_steps,eB_mlp,'mlp'],[eB_qdi_steps,eB_qdi,'qdi'],[eB_anders_steps,eB_anders,'anders'],[eB_allegro_steps,eB_allegro,'allegro']], lw:1.5, dots:false},
 {s:'3', px:[80,597], py:[378,608], xr:[-56,3000], yr:[-2.0704,-1.694], xt:[stepTickVals,stepTickText], yt:[yTicksC,yTickTextC], ytf:10,
  frame:[45,376,603,628], title:['validation_f_mae',325,355], leg:[['qdi','anders','mlp','allegro'],325,371,'andersDark'],
  ytitle:['Forces (eV/Å)',85,414], step:[593,601], cap:['(c)'+NB+NB+'rMD17-aspirin validation F MAE',325,648], fs:1,
  series:[[fC_mlp_steps,fC_mlp,'mlp'],[fC_anders_steps,fC_anders,'andersDark'],[fC_qdi_steps,fC_qdi,'qdi'],[fC_allegro_steps,fC_allegro,'allegro']], lw:1.5, dots:true},
 {s:'4', px:[669,1194], py:[378,608], xr:[-154,3000], yr:[-2.702,0.036], xt:[stepTickVals,stepTickText], yt:[yTicksD,yTickTextD], ytf:10,
  frame:[642,376,1200,628], title:['validation_e_mae',922,355], leg:[['qdi','anders','mlp','allegro'],922,371,'andersDark'],
  ytitle:['Energy (eV)',677,411], step:[1190,601], cap:['(d)'+NB+NB+'rMD17-aspirin validation E MAE',922,648], fs:1,
  series:[[eD_mlp_steps,eD_mlp,'mlp'],[eD_qdi_steps,eD_qdi,'qdi'],[eD_anders_steps,eD_anders,'andersDark'],[eD_allegro_steps,eD_allegro,'allegro']], lw:1.5, dots:true},
 {s:'5', px:[38,561], py:[748,979], xr:[-5,100], yr:[-1.5229,-0.3756], xt:[epochTickVals,epochTickText], yt:[yTicksE,yTickTextE], ytf:9,
  frame:[10,745,568,998], title:['validation _f_mae',289,727], leg:[['qdi','allegro','mlp'],290,742,'anders'],
  ytitle:['Forces (eV/Å)',44,787], step:[556,972], cap:['(e)'+NB+NB+'CuLi validation F MAE',290,1019], fs:1,
  series:[[epochs,fE_allegro,'allegro'],[epochs,fE_mlp,'mlp'],[epochs,fE_qdi,'qdi']], lw:1.5, dots:true},
 {s:'6', px:[628,1228], py:[721,977], xr:[-5.07,100], yr:[-0.526,1.681], xt:[epochTickVals,epochTickText], yt:[yTicksF,yTickTextF], ytf:11,
  frame:[608,715,1237,998], title:['validation_e_mae',922,692], leg:[['qdi','allegro','mlp'],922,710,'anders'],
  ytitle:['Energy (eV)',636,755], step:[1223,969], cap:['(f)'+NB+NB+'CuLi validation E MAE',922,1019], fs:1.12,
  series:[[epochs,eF_allegro,'allegro'],[epochs,eF_mlp,'mlp'],[epochs,eF_qdi,'qdi']], lw:1.5, dots:true}
];

const traces = [];
const layout = {width:W, height:H, margin:{l:0,r:0,t:0,b:0}, paper_bgcolor:'#ffffff', plot_bgcolor:'rgba(0,0,0,0)',
  showlegend:false, hovermode:false, annotations:[], shapes:[]};

function ann(text, x, y, size, color, extra) {
  return Object.assign({text, x:fx(x), y:fy(y), xref:'paper', yref:'paper', showarrow:false,
    xanchor:'center', yanchor:'middle', font:{family:UI, size, color}}, extra || {});
}

panels.forEach(p => {
  const fs = p.fs;
  layout['xaxis'+p.s] = {domain:[fx(p.px[0]), fx(p.px[1])], range:p.xr, anchor:'y'+p.s, type:'linear',
    showgrid:false, zeroline:false, showline:true, linecolor:'#dedede', linewidth:1,
    ticks:'outside', ticklen:4, tickcolor:'#dedede', tickmode:'array', tickvals:p.xt[0], ticktext:p.xt[1],
    ticklabeloverflow:'allow', tickfont:{family:UI, size:10*fs, color:'#8a8a8a'}, fixedrange:true};
  layout['yaxis'+p.s] = {domain:[fy(p.py[1]), fy(p.py[0])], range:p.yr, anchor:'x'+p.s, type:'log',
    showgrid:true, gridcolor:'#eeeeee', gridwidth:1, zeroline:false, showline:true, linecolor:'#dedede', linewidth:1,
    ticks:'', tickmode:'array', tickvals:p.yt[0], ticktext:p.yt[1], ticklabelstandoff:6, ticklabeloverflow:'allow',
    tickfont:{family:UI, size:p.ytf, color:'#8a8a8a'}, fixedrange:true};

  p.series.forEach(([xs, ys, key]) => {
    const n = xs.length;
    const sizes = xs.map((_, i) => (p.dots && i === n - 1) ? 4 : 0);
    traces.push({type:'scatter', mode: p.dots ? 'lines+markers' : 'lines', x:xs, y:ys,
      xaxis:'x'+p.s, yaxis:'y'+p.s, line:{color:C[key], width:p.lw},
      marker:{size:sizes, color:C[key]}, cliponaxis:true, hoverinfo:'skip'});
  });

  layout.shapes.push({type:'rect', xref:'paper', yref:'paper', x0:fx(p.frame[0]), x1:fx(p.frame[2]),
    y0:fy(p.frame[3]), y1:fy(p.frame[1]), line:{color:'#ececec', width:1}, fillcolor:'rgba(0,0,0,0)', layer:'below'});

  layout.annotations.push(ann(p.title[0], p.title[1], p.title[2], 10.5*fs, '#3a3a3a'));
  const [keys, lx, ly, redKey] = p.leg;
  const legText = keys.map(k => {
    const ck = (k === 'anders') ? redKey : k;
    return `<span style="color:${LC[ck]}">▬${NB}${seriesNames[k]}</span>`;
  }).join(NB+NB+NB);
  layout.annotations.push(ann(legText, lx, ly, 8*fs, '#222'));
  layout.annotations.push(ann(p.ytitle[0], p.ytitle[1], p.ytitle[2], 10*fs, '#9a9a9a', {textangle:-90}));
  layout.annotations.push(ann('Step', p.step[0], p.step[1], 10.5*fs, '#9a9a9a', {xanchor:'right'}));
  layout.annotations.push(ann(p.cap[0], p.cap[1], p.cap[2], 17, '#1a1a1a',
    {font:{family:'"DejaVu Serif", "Liberation Serif", serif', size:17, color:'#1a1a1a'}}));
});

Plotly.newPlot('chart', traces, layout, {staticPlot:true, displayModeBar:false});
</script>
</body></html>
